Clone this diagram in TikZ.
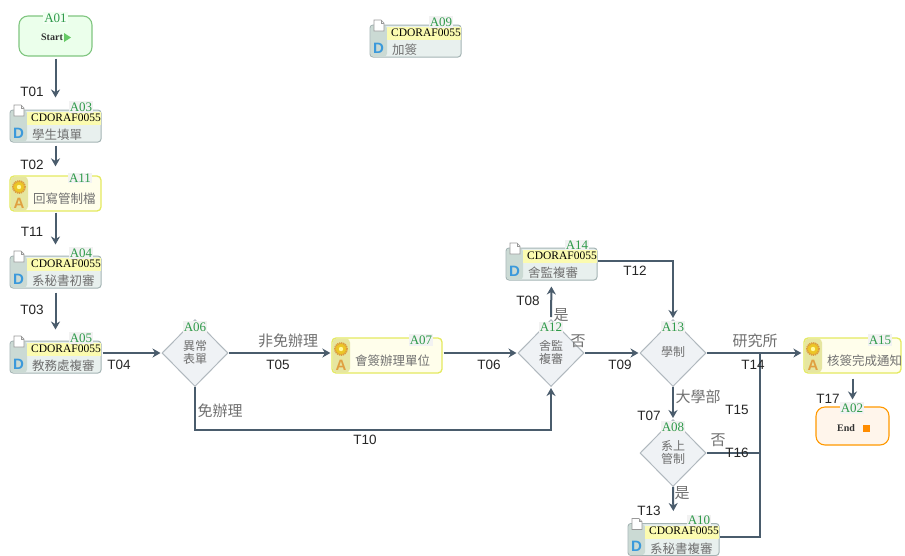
\documentclass[tikz,border=0pt]{standalone}
\usepackage{fontspec}
\setmainfont{Liberation Sans}
\newfontfamily\cjkf{Noto Sans CJK TC}
\newfontfamily\serf{Liberation Serif}
\usetikzlibrary{shapes.geometric,arrows.meta,calc}
\definecolor{linec}{HTML}{4A5C6C}
\definecolor{greent}{HTML}{2E9A4A}
\definecolor{cjkgrey}{HTML}{707070}
\definecolor{orangeA}{HTML}{E0A040}
\definecolor{docfill}{HTML}{E8F0EE}
\definecolor{doccol}{HTML}{CBDAD4}
\definecolor{docedge}{HTML}{A4B4B4}
\definecolor{band}{HTML}{FBFBB0}
\definecolor{actedge}{HTML}{E4EA60}
\definecolor{actcol}{HTML}{E6E6A0}
\definecolor{decfill}{HTML}{EFF2F5}
\definecolor{decedge}{HTML}{B0B8BE}
\tikzset{
 conn/.style={draw=linec,line width=2pt,-{Stealth[length=8pt,width=9pt]}},
 plainconn/.style={draw=linec,line width=2pt},
 tlabel/.style={font=\fontsize{13.5}{15}\selectfont,text=black!85,inner sep=0pt},
 cjklabel/.style={font=\cjkf\fontsize{15}{17}\selectfont,text=cjkgrey,inner sep=0pt},
 alabel/.style={font=\serf\fontsize{13}{14}\selectfont,text=greent,fill=#1,inner sep=1.2pt},
 alabel/.default={black!5},
 docbox/.style={draw=docedge,fill=docfill,rounded corners=3pt,line width=1pt,minimum width=91pt,minimum height=32pt,inner sep=0pt},
 actbox/.style={draw=actedge,fill=yellow!8,rounded corners=4pt,line width=1.3pt,minimum height=35pt,inner sep=0pt},
 termbox/.style={rounded corners=9pt,line width=1.1pt,minimum width=73pt,inner sep=0pt},
 decis/.style={diamond,aspect=1,draw=decedge,fill=decfill,line width=1pt,minimum width=66pt,minimum height=67pt,inner sep=0pt},
 cjktext/.style={font=\cjkf\fontsize{12.5}{14}\selectfont,text=cjkgrey,inner sep=0pt,anchor=west},
 codetext/.style={font=\serf\fontsize{11.5}{13}\selectfont,text=black,inner sep=0pt,anchor=west},
}
\newcommand{\docnode}[5]{%
 \node[docbox] (#1) at (#2+45.5,#3+16) {};
 \fill[doccol,rounded corners=3pt] (#2+.5,#3+.5) rectangle (#2+17,#3+31.5);
 \fill[band] (#2+17,#3+2) rectangle (#2+91,#3+15);
 \node[codetext] (#1code) at (#2+21,#3+7.5) {CDORAF0055};
 \node[cjktext] (#1text) at (#2+22,#3+25) {#5};
 \node[font=\bfseries\fontsize{15}{15}\selectfont,text=cyan!70!blue!80,inner sep=0pt] (#1d) at (#2+8.5,#3+23) {D};
 \draw[gray!80,fill=white,line width=.7pt] (#2+4,#3-5) -- (#2+11,#3-5) -- (#2+14,#3-2) -- (#2+14,#3+6) -- (#2+4,#3+6) -- cycle;
 \draw[gray!80,line width=.5pt] (#2+11,#3-5) -- (#2+11,#3-2) -- (#2+14,#3-2);
 \node[alabel] (#1lab) at (#2+71,#3-3) {#4};
}
\newcommand{\actnode}[6]{% name x y width label text
 \node[actbox,minimum width=#4pt] (#1) at (#2+#4/2,#3+17.5) {};
 \fill[actcol,rounded corners=4pt] (#2+.5,#3+.5) rectangle (#2+18,#3+34.5);
 \draw[orangeA!85!brown,dash pattern=on 1.2pt off .8pt,line width=1.8pt,fill=orangeA!60!yellow] (#2+9,#3+11) circle (6pt);
 \fill[yellow!40] (#2+9,#3+11) circle (2.2pt);
 \node[font=\bfseries\fontsize{15}{15}\selectfont,text=orangeA,inner sep=0pt] (#1a) at (#2+9,#3+27) {A};
 \node[cjktext] (#1text) at (#2+23,#3+22.5) {#6};
 \node[alabel] (#1lab) at (#2+#4-21,#3+2) {#5};
}
\newcommand{\dec}[5]{% name x y label text
 \node[decis] (#1) at (#2,#3) {};
 \node[align=center,inner sep=0pt,text=cjkgrey,font=\cjkf\fontsize{12}{13}\selectfont] (#1text) at (#2,#3-1) {#5};
 \node[alabel] (#1lab) at (#2,#3-26) {#4};
}
\newcommand{\tl}[3]{\node[tlabel] (l#1) at (#2,#3) {#1};}
\begin{document}
\begin{tikzpicture}[x=1pt,y=-1pt]
\useasboundingbox (0,0) rectangle (905,555);
\fill[white] (0,0) rectangle (905,555);

% terminals
\node[termbox,draw=green!55!black!50,fill=green!8,minimum height=40pt] (A01) at (55.5,36) {};
\node[inner sep=0pt,font=\serf\bfseries\fontsize{10}{11}\selectfont,text=black!80] (A01text) at (52,37.5) {Start};
\fill[green!65!black!60] (64,33) -- (71,37.5) -- (64,42) -- cycle;
\node[alabel=green!5] (A01lab) at (55.5,18) {A01};

\node[termbox,draw=orange!80!yellow,fill=orange!8,minimum height=38pt] (A02) at (852.5,426) {};
\node[inner sep=0pt,font=\serf\bfseries\fontsize{10}{11}\selectfont,text=black!80] (A02text) at (846,428.5) {End};
\fill[orange!90!yellow] (863,424.5) rectangle (870,431.5);
\node[alabel] (A02lab) at (852,408) {A02};

% tasks
\docnode{A03}{10}{110}{A03}{學生填單}
\actnode{A11}{10}{176}{91}{A11}{回寫管制檔}
\docnode{A04}{10}{256}{A04}{系秘書初審}
\docnode{A05}{10}{341}{A05}{教務處複審}
\docnode{A09}{370}{25}{A09}{加簽}
\docnode{A14}{506}{248}{A14}{舍監複審}
\docnode{A10}{628}{523.5}{A10}{系秘書複審}
\actnode{A07}{332}{338}{110}{A07}{會簽辦理單位}
\actnode{A15}{804}{338}{97}{A15}{核簽完成通知}

% decisions
\dec{A06}{195}{353}{A06}{異常\\表單}
\dec{A12}{551}{353}{A12}{舍監\\複審}
\dec{A13}{673}{353}{A13}{學制}
\dec{A08}{673}{453}{A08}{系上\\管制}

% connectors
\coordinate (J) at (759.5,353);
\draw[conn,shorten <=2pt,shorten >=12pt] (A01.south) -- (A03.north);
\draw[conn,shorten <=3pt,shorten >=9pt] (A03.south) -- (A11.north);
\draw[conn,shorten <=1pt,shorten >=11pt] (A11.south) -- (A04.north);
\draw[conn,shorten <=4pt,shorten >=11pt] (A04.south) -- (A05.north);
\draw[conn,shorten <=1pt,shorten >=1pt] ([yshift=4pt]A05.east) -- (A06.west);
\draw[conn,shorten >=1pt] (A06.east) -- ([yshift=2.5pt]A07.west);
\draw[conn,shorten <=1pt,shorten >=1pt] ([yshift=2.5pt]A07.east) -- (A12.west);
\draw[conn,shorten >=1pt] (A06.south) -- ++(0,43) -| (A12.south);
\draw[conn,shorten <=2pt,shorten >=6pt] (A12.north) -- (A14.south);
\draw[conn,shorten >=1pt] ([yshift=3pt]A14.east) -| (A13.north);
\draw[conn,shorten >=1pt] (A12.east) -- (A13.west);
\draw[conn,shorten >=2pt] (A13.east) -- ([yshift=2.5pt]A15.west);
\draw[conn,shorten >=1pt] (A13.south) -- (A08.north);
\draw[conn,shorten >=12pt] (A08.south) -- (A10.north);
\draw[plainconn] ([yshift=2.5pt]A10.east) -| (J);
\draw[plainconn] (A08.east) -- (A08.east -| J);
\draw[conn,shorten <=5pt,shorten >=7pt] (A15.south) -- (A02.north);

% transition labels
\tl{T01}{32}{92}
\tl{T02}{32}{165}
\tl{T11}{32}{232}
\tl{T03}{32}{310}
\tl{T04}{119}{365}
\tl{T05}{278}{365}
\tl{T06}{489}{365}
\tl{T10}{365}{440}
\tl{T08}{528}{301}
\tl{T12}{635}{271}
\tl{T09}{620}{365}
\tl{T14}{753}{365}
\tl{T15}{737}{410}
\tl{T16}{737}{453}
\tl{T07}{649}{416}
\tl{T13}{649}{511}
\tl{T17}{828}{399}

% condition labels
\node[cjklabel] (c1) at (288,341) {非免辦理};
\node[cjklabel] (c2) at (220,411) {免辦理};
\node[cjklabel] (c3) at (561,315) {是};
\node[cjklabel] (c4) at (578,341) {否};
\node[cjklabel] (c5) at (755,341) {研究所};
\node[cjklabel] (c6) at (698,397) {大學部};
\node[cjklabel] (c7) at (718,440) {否};
\node[cjklabel] (c8) at (682,493) {是};
\end{tikzpicture}
\end{document}
